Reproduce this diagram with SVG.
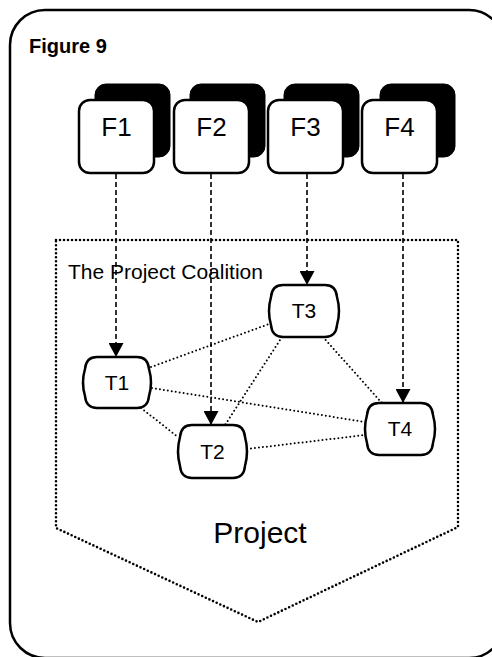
<svg xmlns="http://www.w3.org/2000/svg" width="492" height="657" viewBox="0 0 492 657">
<defs>
<style>
text{font-family:"Liberation Sans",Arial,sans-serif;fill:#000}
.frame{fill:none;stroke:#000;stroke-width:2.5}
.proj{fill:none;stroke:#000;stroke-width:2.6;stroke-dasharray:0 4;stroke-linecap:round;stroke-linejoin:round}
.front{fill:#fff;stroke:#000;stroke-width:2.5}
.shadow{fill:#000;stroke:#000;stroke-width:1}
.tnode{fill:#fff;stroke:#000;stroke-width:2.5}
.dash{fill:none;stroke:#000;stroke-width:1.6;stroke-dasharray:5 3}
.dot{fill:none;stroke:#000;stroke-width:2;stroke-dasharray:0 4;stroke-linecap:round}
.ftxt{font-size:26px;text-anchor:middle}
.ttxt{font-size:21px;text-anchor:middle}
</style>
<marker id="ah" viewBox="0 0 14 15" refX="14" refY="7.5" markerWidth="14" markerHeight="15" markerUnits="userSpaceOnUse" orient="auto">
<path d="M0,0 L14,7.5 L0,15 Z" fill="#000"/>
</marker>
</defs>
<rect class="frame" x="10" y="10" width="494" height="648" rx="35" ry="35"/>
<text x="29" y="53" style="font-size:20px;font-weight:bold">Figure 9</text>
<g id="project">
<polygon class="proj" points="56,240 458,240 458,527 258,622 56,528"/>
<text x="68" y="279" style="font-size:21px">The Project Coalition</text>
<text x="260" y="543" style="font-size:30px;text-anchor:middle">Project</text>
</g>
<g id="connectors">
<line class="dash" x1="116" y1="174" x2="116" y2="357" marker-end="url(#ah)"/>
<line class="dash" x1="211" y1="174" x2="211" y2="425" marker-end="url(#ah)"/>
<line class="dash" x1="307" y1="174" x2="307" y2="285" marker-end="url(#ah)"/>
<line class="dash" x1="403" y1="174" x2="403" y2="403" marker-end="url(#ah)"/>
<line class="dot" x1="151" y1="367" x2="269" y2="324"/>
<line class="dot" x1="152" y1="388" x2="365" y2="422"/>
<line class="dot" x1="141" y1="408" x2="178" y2="437"/>
<line class="dot" x1="282" y1="337" x2="225" y2="425"/>
<line class="dot" x1="323" y1="337" x2="382" y2="403"/>
<line class="dot" x1="247" y1="449" x2="365" y2="435"/>
</g>
<g id="F1">
<rect class="shadow" x="95" y="84" width="75" height="73" rx="11"/>
<rect class="front" x="79" y="100" width="75" height="73" rx="11"/>
<text class="ftxt" x="116.5" y="136">F1</text>
</g>
<g id="F2">
<rect class="shadow" x="190" y="84" width="75" height="73" rx="11"/>
<rect class="front" x="174" y="100" width="75" height="73" rx="11"/>
<text class="ftxt" x="211.5" y="136">F2</text>
</g>
<g id="F3">
<rect class="shadow" x="284" y="84" width="75" height="73" rx="11"/>
<rect class="front" x="268" y="100" width="75" height="73" rx="11"/>
<text class="ftxt" x="305.5" y="136">F3</text>
</g>
<g id="F4">
<rect class="shadow" x="380" y="84" width="75" height="73" rx="11"/>
<rect class="front" x="362" y="100" width="75" height="73" rx="11"/>
<text class="ftxt" x="399.5" y="136">F4</text>
</g>
<g id="T1">
<path class="tnode" d="M97,357 H137 Q148,357 149,369 Q153,382.5 149,396 Q148,408 137,408 H97 Q86,408 85,396 Q81,382.5 85,369 Q86,357 97,357 Z"/>
<text class="ttxt" x="117" y="390">T1</text>
</g>
<g id="T2">
<path class="tnode" d="M192,425 H233 Q244,425 245,437 Q249,451.5 245,466 Q244,478 233,478 H192 Q181,478 180,466 Q176,451.5 180,437 Q181,425 192,425 Z"/>
<text class="ttxt" x="212.5" y="459">T2</text>
</g>
<g id="T3">
<path class="tnode" d="M283,285 H325 Q336,285 337,297 Q341,311 337,325 Q336,337 325,337 H283 Q272,337 271,325 Q267,311 271,297 Q272,285 283,285 Z"/>
<text class="ttxt" x="304" y="318">T3</text>
</g>
<g id="T4">
<path class="tnode" d="M379,403 H421 Q432,403 433,415 Q437,429 433,443 Q432,455 421,455 H379 Q368,455 367,443 Q363,429 367,415 Q368,403 379,403 Z"/>
<text class="ttxt" x="400" y="436">T4</text>
</g>
</svg>
